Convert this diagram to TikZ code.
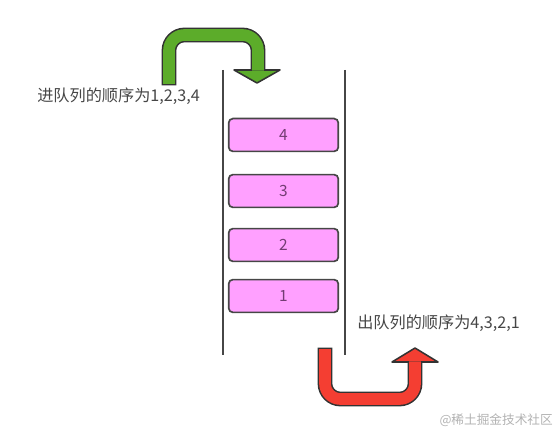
\documentclass[tikz,border=0pt]{standalone}
\usepackage{fontspec}
\setmainfont{Noto Sans CJK SC}
\definecolor{darkgray}{RGB}{70, 70, 70}
\definecolor{boxpink}{RGB}{255, 160, 255}
\definecolor{numpurple}{RGB}{115, 60, 115}
\definecolor{arrowgreen}{RGB}{92, 172, 42}
\definecolor{arrowred}{RGB}{244, 62, 50}
\definecolor{markgray}{RGB}{178, 178, 178}

\begin{document}
\begin{tikzpicture}[x=0.025cm, y=-0.025cm,
		qbox/.style={rectangle, rounded corners=3pt, draw=darkgray, fill=boxpink, line width=1.2pt,
			minimum width=2.74cm, minimum height=0.82cm, text=numpurple, font=\fontsize{11}{12}\selectfont},
		caption/.style={anchor=west, inner sep=0pt, text=darkgray, font=\fontsize{11.5}{13}\selectfont},
		bandline/.style={line width=10.5pt, black!80, rounded corners=11pt},
		bandfill/.style={line width=8.3pt, rounded corners=11pt}]
			\useasboundingbox (0,0) rectangle (556,431);
			
			% QUEUE WALLS
			\draw[darkgray, line width=1.3pt] (223, 70) -- (223, 355);
			\draw[darkgray, line width=1.3pt] (345, 70) -- (345, 355);
			
			% ELEMENTS
			\node[qbox] (q4) at (283.5, 135) {4};
			\node[qbox] (q3) at (283.5, 191) {3};
			\node[qbox] (q2) at (283.5, 245) {2};
			\node[qbox] (q1) at (283.5, 296) {1};
			
			% GREEN ARROW: ENQUEUE
			\draw[bandline] (169, 85.5) -- (169, 35) -- (258, 35) -- (258, 71);
			\filldraw[fill=arrowgreen, draw=black!80, line width=1.1pt, line join=round] (234, 70) -- (280, 70) -- (257, 83) -- cycle;
			\draw[bandfill, arrowgreen] (169, 84) -- (169, 35) -- (258, 35) -- (258, 70.6);
			\node[caption] (inlabel) at (37, 96) {进队列的顺序为1,2,3,4};
			
			% RED ARROW: DEQUEUE
			\draw[bandline] (325, 347.5) -- (325, 399) -- (415, 399) -- (415, 361);
			\filldraw[fill=arrowred, draw=black!80, line width=1.1pt, line join=round] (392, 362) -- (438, 362) -- (415, 348) -- cycle;
			\draw[bandfill, arrowred] (325, 349) -- (325, 399) -- (415, 399) -- (415, 361.4);
			\node[caption] (outlabel) at (357, 323) {出队列的顺序为4,3,2,1};
			
			% WATERMARK
			\node[anchor=east, inner sep=0pt, text=markgray, font=\fontsize{9}{10}\selectfont] (mark) at (553, 420) {@稀土掘金技术社区};
			
		\end{tikzpicture}
\end{document}
